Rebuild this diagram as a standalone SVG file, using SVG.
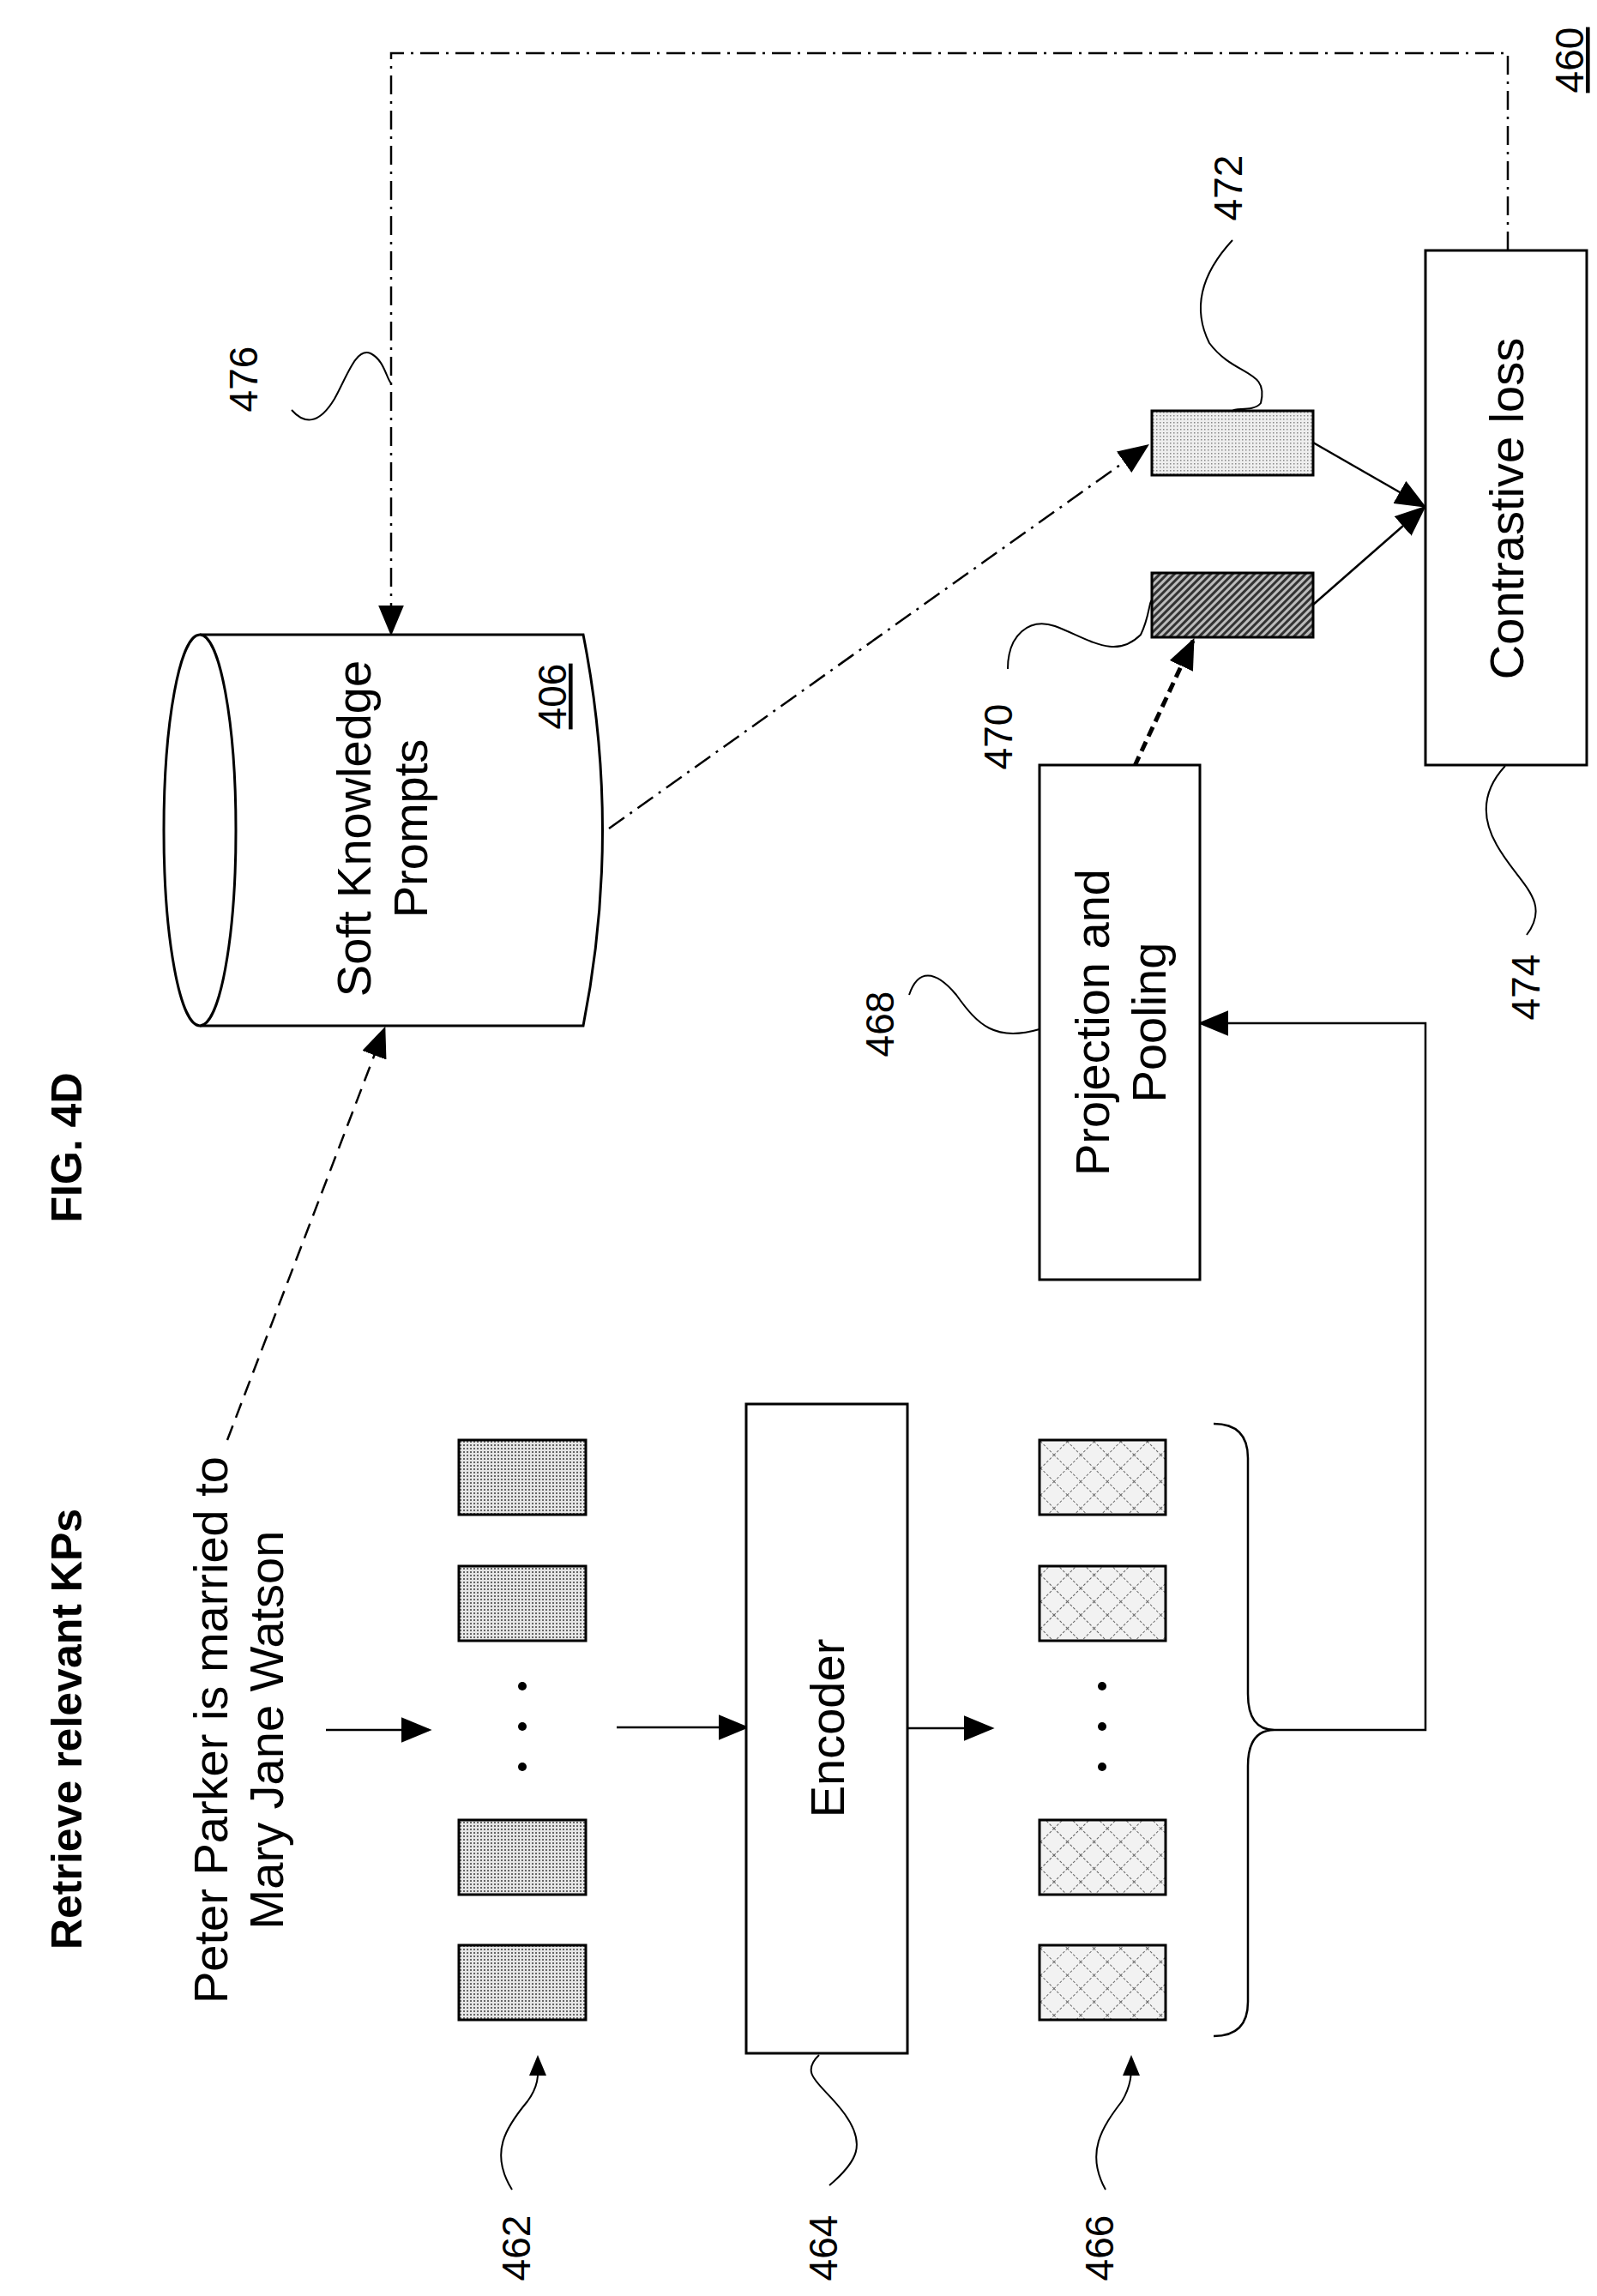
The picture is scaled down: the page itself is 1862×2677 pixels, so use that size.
<svg xmlns="http://www.w3.org/2000/svg" width="1862" height="2677" viewBox="0 0 1862 2677">
<style>
text{font-family:"Liberation Sans",Arial,sans-serif;fill:#000}
.m{font-size:56px;text-anchor:middle}
.l{font-size:46px;text-anchor:middle}
.b{font-size:50px;font-weight:bold;text-anchor:middle}
.box{fill:#fff;stroke:#000;stroke-width:3}
.ln{fill:none;stroke:#000;stroke-width:2.5}
.dd{fill:none;stroke:#000;stroke-width:2.5;stroke-dasharray:22 8 3 8}
.da{fill:none;stroke:#000;stroke-width:2.5;stroke-dasharray:18 10}
.sq{fill:none;stroke:#000;stroke-width:2}
</style>
<defs>
<marker id="ab" viewBox="0 0 10 10" refX="9" refY="5" markerWidth="36" markerHeight="30" markerUnits="userSpaceOnUse" orient="auto" preserveAspectRatio="none"><path d="M0,0L10,5L0,10z"/></marker>
<pattern id="dots" width="4" height="4" patternUnits="userSpaceOnUse"><rect width="4" height="4" fill="#e6e6e6"/><rect width="2" height="2" fill="#666"/></pattern>
<pattern id="ldots" width="4" height="4" patternUnits="userSpaceOnUse"><rect width="4" height="4" fill="#eee"/><rect width="1.5" height="1.5" fill="#888"/></pattern>
<pattern id="hatch" width="6" height="6" patternUnits="userSpaceOnUse" patternTransform="rotate(45)"><rect width="6" height="6" fill="#bbb"/><rect width="3" height="6" fill="#333"/></pattern>
<pattern id="xh" width="22" height="22" patternUnits="userSpaceOnUse" patternTransform="rotate(45)"><rect width="22" height="22" fill="#f2f2f2"/><path d="M0,0V22M0,0H22" stroke="#666" stroke-width="2" stroke-dasharray="3 2"/></pattern>
</defs>
<text class="l" text-decoration="underline" transform="translate(1846,70) rotate(-90)">460</text>
<text class="b" transform="translate(95,1338) rotate(-90)">FIG. 4D</text>
<text class="b" transform="translate(95,2016) rotate(-90)">Retrieve relevant KPs</text>
<text class="m" transform="translate(265,2017) rotate(-90)">Peter Parker is married to</text>
<text class="m" transform="translate(330,2017) rotate(-90)">Mary Jane Watson</text>
<g id="connectors">
<path class="dd" d="M1758,292V62H456V738" marker-end="url(#ab)"/>
<path class="dd" d="M710,966L1337,520" marker-end="url(#ab)"/>
<path class="da" d="M265,1679L448,1200" marker-end="url(#ab)"/>
<path class="ln" d="M380,2017H500" marker-end="url(#ab)"/>
<path class="ln" d="M719,2014H870" marker-end="url(#ab)"/>
<path class="ln" d="M1058,2015H1156" marker-end="url(#ab)"/>
<path class="ln" d="M1486,2017H1662V1193H1400" marker-end="url(#ab)"/>
<path d="M1323,893L1391,747" fill="none" stroke="#000" stroke-width="5" stroke-dasharray="12 7" marker-end="url(#ab)"/>
<path class="ln" d="M1531,516L1660,590" marker-end="url(#ab)"/>
<path class="ln" d="M1531,705L1660,592" marker-end="url(#ab)"/>
</g>
<g id="n406">
<path class="box" d="M233,740H680Q725,968 680,1196H233"/>
<ellipse class="box" cx="233" cy="968" rx="42" ry="228"/>
<text class="m" transform="translate(432,966) rotate(-90)">Soft Knowledge</text>
<text class="m" transform="translate(498,966) rotate(-90)">Prompts</text>
<text class="l" text-decoration="underline" transform="translate(660,812) rotate(-90)">406</text>
</g>
<g id="n474"><rect class="box" x="1662" y="292" width="188" height="600"/>
<text class="m" transform="translate(1776,593) rotate(-90)">Contrastive loss</text></g>
<g id="n468"><rect class="box" x="1212" y="892" width="187" height="600"/>
<text class="m" transform="translate(1293,1192) rotate(-90)">Projection and</text>
<text class="m" transform="translate(1359,1192) rotate(-90)">Pooling</text></g>
<g id="n464"><rect class="box" x="870" y="1637" width="188" height="757"/>
<text class="m" transform="translate(984,2015) rotate(-90)">Encoder</text></g>
<g id="n472"><rect x="1343" y="479" width="188" height="75" fill="url(#ldots)" stroke="#000" stroke-width="3"/></g>
<g id="n470"><rect x="1343" y="668" width="188" height="75" fill="url(#hatch)" stroke="#000" stroke-width="3"/></g>
<g id="n462">
<rect x="535" y="1679" width="148" height="87" fill="url(#dots)" stroke="#000" stroke-width="3"/>
<rect x="535" y="1826" width="148" height="87" fill="url(#dots)" stroke="#000" stroke-width="3"/>
<rect x="535" y="2122" width="148" height="87" fill="url(#dots)" stroke="#000" stroke-width="3"/>
<rect x="535" y="2268" width="148" height="87" fill="url(#dots)" stroke="#000" stroke-width="3"/>
<circle cx="609" cy="1966" r="5"/><circle cx="609" cy="2013" r="5"/><circle cx="609" cy="2060" r="5"/>
</g>
<g id="n466">
<rect x="1212" y="1679" width="147" height="87" fill="url(#xh)" stroke="#000" stroke-width="3"/>
<rect x="1212" y="1826" width="147" height="87" fill="url(#xh)" stroke="#000" stroke-width="3"/>
<rect x="1212" y="2122" width="147" height="87" fill="url(#xh)" stroke="#000" stroke-width="3"/>
<rect x="1212" y="2268" width="147" height="87" fill="url(#xh)" stroke="#000" stroke-width="3"/>
<circle cx="1285" cy="1966" r="5"/><circle cx="1285" cy="2013" r="5"/><circle cx="1285" cy="2060" r="5"/>
<path class="ln" d="M1415,1660Q1455,1660 1455,1700V1975Q1455,2017 1486,2017Q1455,2017 1455,2059V2334Q1455,2374 1415,2374"/>
</g>
<g id="labels">
<text class="l" transform="translate(300,442) rotate(-90)">476</text>
<path class="sq" d="M340,478C355,495 372,495 390,465C405,438 415,405 432,412C448,420 450,440 456,447"/>
<text class="l" transform="translate(1448,219) rotate(-90)">472</text>
<path class="sq" d="M1437,280C1400,320 1390,360 1410,400C1440,440 1480,430 1470,470C1462,480 1440,475 1437,479"/>
<text class="l" transform="translate(1180,859) rotate(-90)">470</text>
<path class="sq" d="M1175,780C1175,740 1200,720 1230,730C1270,745 1300,770 1330,740C1340,720 1340,700 1343,700"/>
<text class="l" transform="translate(1042,1194) rotate(-90)">468</text>
<path class="sq" d="M1060,1160C1070,1130 1090,1130 1115,1160C1140,1195 1160,1215 1212,1200"/>
<text class="l" transform="translate(1795,1151) rotate(-90)">474</text>
<path class="sq" d="M1755,893C1730,920 1725,950 1745,985C1770,1030 1810,1050 1780,1090"/>
<text class="l" transform="translate(618,2621) rotate(-90)">462</text>
<path class="sq" d="M597,2553C570,2510 590,2480 615,2450C630,2430 627,2415 627,2405"/>
<path d="M627,2396L617,2420L637,2420z"/>
<text class="l" transform="translate(976,2621) rotate(-90)">464</text>
<path class="sq" d="M967,2548C1000,2520 1010,2500 985,2465C960,2430 930,2420 955,2396"/>
<text class="l" transform="translate(1298,2621) rotate(-90)">466</text>
<path class="sq" d="M1289,2553C1265,2510 1285,2480 1308,2450C1320,2430 1319,2415 1319,2405"/>
<path d="M1319,2396L1309,2420L1329,2420z"/>
</g>
</svg>
